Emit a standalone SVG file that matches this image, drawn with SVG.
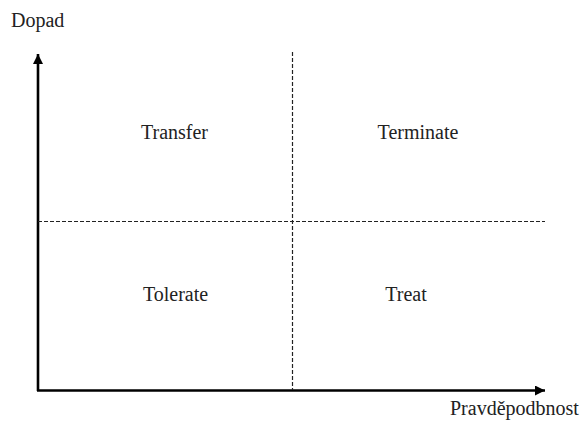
<svg xmlns="http://www.w3.org/2000/svg" width="586" height="425" viewBox="0 0 586 425">
<style>
.axis{stroke:#000;stroke-width:2.6;fill:none}
.dash{stroke:#222;stroke-width:1.2;stroke-dasharray:4 2;fill:none}
.lbl{font-family:"Liberation Serif","Times New Roman",Tinos,"DejaVu Serif",serif;font-size:20px;fill:#222}
</style>
<defs>
<marker id="arr" markerUnits="userSpaceOnUse" markerWidth="12" markerHeight="12" refX="10" refY="5" orient="auto">
<path d="M0,0 L10,5 L0,10 Z" fill="#000"/>
</marker>
</defs>
<rect width="586" height="425" fill="#fff"/>
<g id="connectors">
<path class="axis" d="M38,391 L38,54" marker-end="url(#arr)"/>
<path class="axis" d="M37,390.5 L545,390.5" marker-end="url(#arr)"/>
<path class="dash" d="M292.5,52 L292.5,390"/>
<path class="dash" d="M38,221.5 L545,221.5"/>
</g>
<g id="axis-y"><text class="lbl" x="11" y="27">Dopad</text></g>
<g id="axis-x"><text class="lbl" x="450" y="415">Pravděpodbnost</text></g>
<g id="transfer"><text class="lbl" x="174.5" y="139" text-anchor="middle">Transfer</text></g>
<g id="terminate"><text class="lbl" x="418" y="139" text-anchor="middle">Terminate</text></g>
<g id="tolerate"><text class="lbl" x="175.5" y="301" text-anchor="middle">Tolerate</text></g>
<g id="treat"><text class="lbl" x="406" y="301" text-anchor="middle">Treat</text></g>
</svg>
